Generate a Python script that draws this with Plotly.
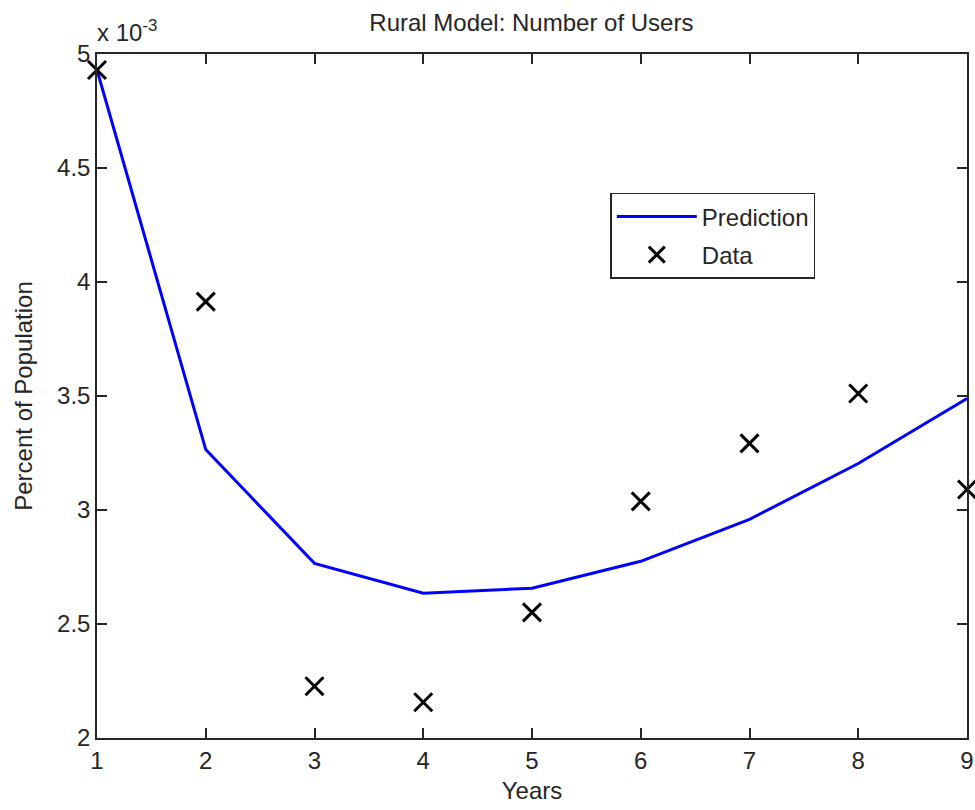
import plotly.graph_objects as go

years = [1, 2, 3, 4, 5, 6, 7, 8, 9]
# values in units of 10^-3 (percent of population)
prediction = [4.93, 3.265, 2.766, 2.635, 2.657, 2.775, 2.959, 3.204, 3.489]
data = [4.93, 3.914, 2.227, 2.157, 2.551, 3.038, 3.292, 3.511, 3.090]
ytick_vals = [2, 2.5, 3, 3.5, 4, 4.5, 5]
ytick_text = ["2", "2.5", "3", "3.5", "4", "4.5", "5"]

FONT = "Liberation Sans"
FS = 24
COL = "#262626"

fig = go.Figure()
fig.add_trace(go.Scatter(
    x=years, y=prediction, mode="lines", name="Prediction", legendgroup="a",
    line=dict(color="#0000ff", width=3), cliponaxis=False))
fig.add_trace(go.Scatter(
    x=years, y=data, mode="markers", name="Data", legendgroup="b",
    marker=dict(symbol="x-thin", size=18, line=dict(color="black", width=3), color="black"),
    cliponaxis=False))

axis_common = dict(showgrid=False, zeroline=False, showline=True, linecolor=COL,
                   linewidth=1.5, mirror="ticks", ticks="inside", ticklen=10,
                   tickcolor=COL, tickwidth=1.5, automargin=False,
                   tickfont=dict(family=FONT, size=FS, color=COL))

fig.update_xaxes(range=[1, 9], tickvals=years, ticktext=[str(v) for v in years],
                 title=dict(text="Years", font=dict(family=FONT, size=FS, color=COL), standoff=10),
                 **axis_common)
fig.update_yaxes(range=[2, 5], tickvals=ytick_vals, ticktext=ytick_text,
                 title=dict(text="Percent of Population", font=dict(family=FONT, size=FS, color=COL), standoff=18),
                 **axis_common)

fig.add_annotation(xref="paper", yref="paper", x=0, y=1, xanchor="left", yanchor="bottom",
                   xshift=-2, yshift=6, showarrow=False,
                   text="x 10<sup>-3</sup>", font=dict(family=FONT, size=FS, color=COL))

fig.update_layout(
    width=975, height=810,
    margin=dict(l=97, r=8, t=54, b=72, autoexpand=False),
    paper_bgcolor="white", plot_bgcolor="white",
    title=dict(text="Rural Model: Number of Users", x=0.545, xanchor="center", y=0.972, yanchor="middle",
               font=dict(family=FONT, size=FS, color=COL)),
    legend=dict(x=0.59, y=0.797, xanchor="left", yanchor="top",
                bordercolor=COL, borderwidth=1.5, bgcolor="white",
                itemwidth=80, font=dict(family=FONT, size=FS, color=COL),
                traceorder="grouped", tracegroupgap=4),
    showlegend=True,
)

fig.write_html("out.html")
